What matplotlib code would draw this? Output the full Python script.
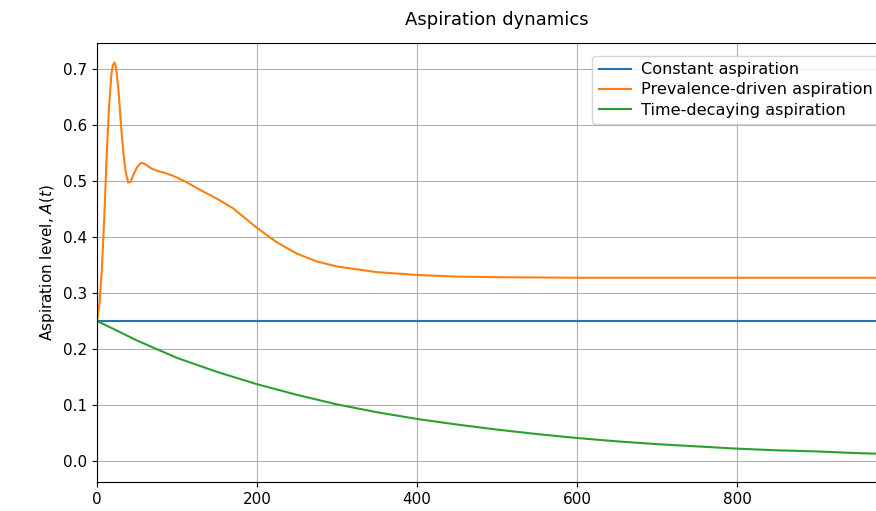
import matplotlib
matplotlib.use('Agg')
import matplotlib.pyplot as plt

# time steps and readings taken off the reference curves
t_const = [0, 1000]
a_const = [0.25, 0.25]

t_prev = [0, 3, 6, 9, 12, 15, 18, 20, 22, 24, 27, 30, 33, 36, 39, 42, 46, 50, 54, 57,
          62, 68, 75, 85, 95, 110, 130, 150, 170, 200, 225, 250, 275, 300, 350, 400,
          450, 500, 600, 700, 800, 900, 1000]
a_prev = [0.25, 0.28, 0.34, 0.43, 0.54, 0.63, 0.69, 0.707, 0.711, 0.70, 0.66, 0.60,
          0.55, 0.515, 0.497, 0.498, 0.512, 0.524, 0.531, 0.532, 0.528, 0.522,
          0.518, 0.514, 0.509, 0.499, 0.483, 0.468, 0.451, 0.416, 0.390, 0.370,
          0.356, 0.347, 0.337, 0.332, 0.329, 0.328, 0.327, 0.327, 0.327, 0.327, 0.327]

t_decay = [0, 50, 100, 150, 200, 250, 300, 350, 400, 450, 500, 550, 600, 650,
           700, 750, 800, 850, 900, 950, 1000]
a_decay = [0.25, 0.215, 0.184, 0.159, 0.137, 0.118, 0.101, 0.087, 0.075, 0.065,
           0.056, 0.048, 0.041, 0.035, 0.030, 0.026, 0.022, 0.019, 0.017, 0.014, 0.012]

fig = plt.figure(figsize=(8.76, 5.11), dpi=100)
ax = fig.add_axes([0.1107, 0.0568, 0.9132, 0.8591])

ax.plot(t_const, a_const, label='Constant aspiration')
ax.plot(t_prev, a_prev, label='Prevalence-driven aspiration')
ax.plot(t_decay, a_decay, label='Time-decaying aspiration')

ax.set_xlim(0, 1000)
ax.set_ylim(-0.0375, 0.746)
ax.set_xticks(range(0, 1001, 200))
ax.tick_params(labelsize=11)
ax.set_xlabel('Time step, $t$', fontsize=11)
ax.set_ylabel('Aspiration level, $A(t)$', fontsize=11)
ax.set_title('Aspiration dynamics', fontsize=13, pad=13)
ax.grid(True)
ax.legend(loc='upper left', bbox_to_anchor=(0.609, 0.989), fontsize=11.6,
          labelspacing=0.32, handletextpad=0.6)

fig.savefig('out.png', dpi=100)
